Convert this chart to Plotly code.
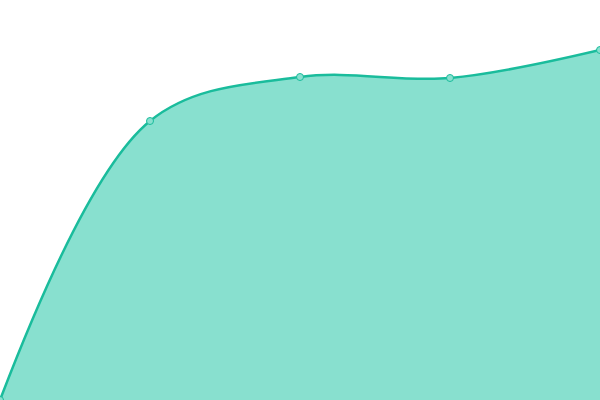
import plotly.graph_objects as go

# area chart, no axes, full bleed
x_vals = [0, 1, 2, 3, 4]
y_vals = [0, 69.75, 80.75, 80.5, 87.5]

trace = go.Scatter(
    x=x_vals,
    y=y_vals,
    mode='lines+markers',
    line=dict(color='#1abc9c', width=2.5, shape='spline', smoothing=1),
    marker=dict(size=7, color='#88e0cf', line=dict(color='#1abc9c', width=1)),
    fill='tozeroy',
    fillcolor='#88e0cf',
    hoverinfo='skip',
)

layout = go.Layout(
    width=600,
    height=400,
    margin=dict(l=0, r=0, t=0, b=0),
    paper_bgcolor='white',
    plot_bgcolor='white',
    showlegend=False,
    xaxis=dict(visible=False, range=[0, 4], fixedrange=True),
    yaxis=dict(visible=False, range=[0, 100], fixedrange=True),
)

fig = go.Figure(data=[trace], layout=layout)
# drop the default page margin so the chart sits at 0,0
fig.write_html("out.html", config=dict(displayModeBar=False),
               post_script="document.body.style.margin='0';document.body.style.overflow='hidden';")
